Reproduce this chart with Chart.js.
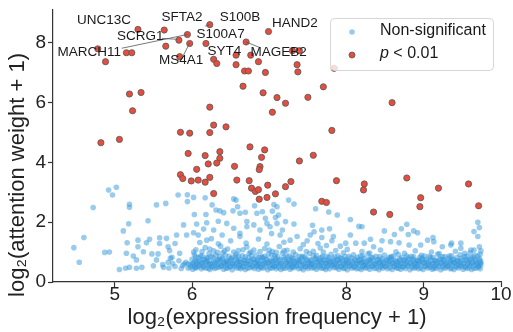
<!DOCTYPE html>
<html>
<head>
<meta charset="utf-8">
<script src="https://cdn.jsdelivr.net/npm/chart.js@4.4.1/dist/chart.umd.min.js"></script>
<style>
  html, body { margin: 0; padding: 0; background: #fff; }
  #wrap { width: 513px; height: 332px; }
</style>
</head>
<body>
<div id="wrap"><canvas id="scatter"></canvas></div>
<script>
const FONT = "'Liberation Sans', Arial, Helvetica, sans-serif";

const xTicks = [5, 6, 7, 8, 9, 10];
const yTicks = [0, 2, 4, 6, 8];

// significant genes (p < 0.01), flat x,y pairs
const sigPoints = [
  5.30,8.45, 5.64,8.43, 6.23,8.61, 6.99,8.38, 5.94,8.28, 5.83,8.09, 5.66,7.89, 5.97,7.98,
  6.18,7.98, 6.70,8.03, 4.78,7.80, 5.15,7.67, 5.22,7.67, 4.88,7.37, 5.84,7.54, 6.28,7.45,
  6.32,7.31, 6.57,7.59, 6.57,7.27, 6.76,7.59, 6.86,7.37, 7.30,7.74, 7.39,7.74, 6.68,7.06,
  6.73,7.06, 6.95,7.01, 7.36,7.27, 7.37,7.03, 6.66,6.55, 6.92,6.33, 7.10,6.17, 7.50,6.18,
  7.70,6.53, 7.21,5.98, 7.04,5.68, 8.59,6.00, 5.19,6.29, 5.34,6.34, 5.23,5.73, 6.23,5.85,
  6.28,5.25, 6.44,5.19, 5.85,5.01, 5.97,4.98, 6.23,5.00, 4.82,4.66, 5.06,4.77, 7.81,5.07,
  6.75,4.52, 6.94,4.42, 5.95,4.30, 6.36,4.36, 6.17,4.23, 6.36,4.14, 6.90,4.17, 7.57,4.24,
  7.39,4.05, 6.21,3.95, 6.32,3.98, 6.55,3.87, 6.88,3.86, 6.87,3.76, 6.06,3.77, 5.85,3.59,
  5.88,3.46, 5.99,3.38, 6.08,3.41, 6.17,3.34, 6.23,3.50, 6.58,3.41, 6.74,3.39, 7.28,3.36,
  6.77,3.14, 6.98,3.24, 7.21,3.19, 6.82,3.03, 6.86,3.09, 6.28,2.96, 7.08,2.95, 6.87,2.77,
  6.97,2.83, 7.87,3.39, 8.23,3.28, 8.22,3.08, 8.78,3.48, 9.19,3.14, 9.58,3.28, 8.96,2.82,
  8.95,2.52, 9.71,2.55, 7.68,2.70, 7.74,2.66, 8.35,2.34, 8.56,2.26, 7.84,7.15
];

// non-significant genes, scattered above the main band
const blueScatter = [
  4.47,1.15, 4.54,0.66, 4.60,1.49, 4.72,2.49, 4.87,0.99, 4.93,1.00, 4.92,3.08, 5.02,3.17,
  4.97,2.91, 5.19,2.60, 5.19,2.50, 5.54,2.58, 5.66,2.63, 5.82,2.91, 5.94,2.92, 5.94,2.69,
  6.02,2.83, 6.17,2.82, 6.26,2.58, 6.31,2.41, 6.36,2.38, 6.41,2.32, 6.54,2.78, 6.59,2.52,
  6.53,2.38, 6.69,2.33, 6.91,2.35, 7.04,2.37, 7.10,2.52, 6.03,2.26, 6.18,2.26, 6.06,1.94,
  6.19,1.98, 6.34,2.03, 6.15,1.77, 5.43,2.05, 5.18,1.95, 5.11,1.71, 5.16,1.31, 5.30,1.40,
  5.30,1.18, 5.41,1.31, 5.45,1.43, 5.58,1.48, 5.58,1.29, 5.67,1.46, 5.69,1.18, 5.78,1.29,
  5.80,1.57, 5.89,1.91, 5.93,1.57, 6.02,1.65, 5.15,0.96, 5.24,0.87, 5.28,0.74, 5.37,1.01,
  5.48,0.94, 5.54,0.74, 5.56,0.94, 5.71,1.05, 5.74,0.83, 5.84,0.96, 5.06,0.42, 5.14,0.46,
  5.19,0.49, 5.28,0.46, 5.35,0.49, 5.50,0.54, 5.63,0.49, 5.69,0.66,
  7.25,2.74, 7.32,2.61, 7.06,2.59, 7.60,2.45, 7.77,2.34, 7.88,2.24, 8.05,2.09, 8.20,1.85,
  8.16,1.86, 7.56,1.90, 7.68,1.74, 7.78,1.78, 8.49,1.71, 8.62,1.59, 8.71,1.78, 8.78,1.93,
  8.87,1.71, 8.92,1.65, 8.80,1.59, 9.05,1.40, 9.12,1.49, 9.70,2.00, 9.72,1.82, 9.65,1.69,
  9.70,1.52, 9.36,1.30, 9.48,1.30, 9.65,1.07, 9.72,1.18,
  6.95,2.13, 7.08,2.16, 7.10,1.96, 7.21,2.02, 7.32,1.94, 7.17,1.74, 7.01,1.85, 7.14,1.57,
  7.27,1.40, 7.36,1.52, 7.49,1.38, 7.53,1.57, 7.58,1.68, 7.68,1.49, 7.81,1.38, 7.83,1.52,
  7.99,1.30, 8.05,1.57, 8.12,1.30, 8.23,1.30, 8.31,1.43, 8.35,1.18, 8.46,1.38, 8.57,1.35,
  8.68,1.31, 8.81,1.24, 8.96,1.24, 9.13,1.35, 9.24,1.18, 9.35,1.24, 9.48,1.13, 9.61,1.07,
  6.62,2.30, 6.71,2.02, 6.84,2.30, 6.80,1.91, 6.88,1.74, 6.97,1.96, 7.12,2.24, 6.45,1.96,
  6.54,1.80, 6.62,1.63, 6.71,1.85, 6.28,1.74, 6.39,1.57, 6.19,1.40, 6.08,1.57, 6.57,2.74,
  6.81,2.55
];

// the dense band of non-significant genes, row by row
const bandRowA = [
  5.95,0.46, 6.01,0.43, 6.06,0.48, 6.12,0.44, 6.18,0.47, 6.23,0.42, 6.29,0.45, 6.35,0.49,
  6.41,0.43, 6.46,0.46, 6.52,0.41, 6.58,0.47, 6.63,0.44, 6.69,0.42, 6.75,0.48, 6.81,0.45,
  6.86,0.43, 6.92,0.46, 6.98,0.41, 7.04,0.47, 7.09,0.44, 7.15,0.42, 7.21,0.46, 7.27,0.43,
  7.32,0.48, 7.38,0.44, 7.44,0.41, 7.50,0.45, 7.55,0.47, 7.61,0.43, 7.67,0.46, 7.73,0.42,
  7.78,0.44, 7.84,0.48, 7.90,0.43, 7.96,0.45, 8.01,0.41, 8.07,0.46, 8.13,0.44, 8.19,0.42,
  8.24,0.47, 8.30,0.43, 8.36,0.45, 8.42,0.41, 8.47,0.46, 8.53,0.44, 8.59,0.42, 8.65,0.47,
  8.70,0.43, 8.76,0.45, 8.82,0.41, 8.88,0.46, 8.93,0.44, 8.99,0.42, 9.05,0.47, 9.11,0.43,
  9.16,0.45, 9.22,0.41, 9.28,0.46, 9.34,0.44, 9.39,0.42, 9.45,0.47, 9.51,0.43, 9.57,0.45,
  9.62,0.42, 9.68,0.46, 9.73,0.44
];
const bandRowA2 = [
  5.98,0.50, 6.04,0.47, 6.09,0.52, 6.15,0.49, 6.21,0.46, 6.26,0.51, 6.32,0.48, 6.38,0.53,
  6.44,0.47, 6.49,0.50, 6.55,0.52, 6.61,0.48, 6.66,0.51, 6.72,0.46, 6.78,0.50, 6.84,0.53,
  6.89,0.48, 6.95,0.51, 7.01,0.47, 7.06,0.52, 7.12,0.49, 7.18,0.46, 7.24,0.51, 7.29,0.48,
  7.35,0.53, 7.41,0.47, 7.47,0.50, 7.52,0.52, 7.58,0.48, 7.64,0.51, 7.70,0.46, 7.75,0.50,
  7.81,0.53, 7.87,0.48, 7.93,0.51, 7.98,0.47, 8.04,0.52, 8.10,0.49, 8.16,0.46, 8.21,0.51,
  8.27,0.48, 8.33,0.53, 8.39,0.47, 8.44,0.50, 8.50,0.52, 8.56,0.48, 8.62,0.51, 8.67,0.46,
  8.73,0.50, 8.79,0.53, 8.85,0.48, 8.90,0.51, 8.96,0.47, 9.02,0.52, 9.08,0.49, 9.13,0.46,
  9.19,0.51, 9.25,0.48, 9.31,0.53, 9.36,0.47, 9.42,0.50, 9.48,0.52, 9.54,0.48, 9.59,0.51,
  9.65,0.46, 9.71,0.50
];
const bandRowB = [
  5.88,0.55, 5.98,0.58, 6.04,0.53, 6.09,0.57, 6.15,0.54, 6.21,0.59, 6.26,0.52, 6.32,0.56,
  6.38,0.54, 6.43,0.58, 6.49,0.53, 6.55,0.57, 6.61,0.55, 6.66,0.52, 6.72,0.58, 6.78,0.54,
  6.84,0.56, 6.89,0.53, 6.95,0.59, 7.01,0.55, 7.07,0.52, 7.12,0.57, 7.18,0.54, 7.24,0.58,
  7.30,0.53, 7.35,0.56, 7.41,0.55, 7.47,0.52, 7.53,0.58, 7.58,0.54, 7.64,0.57, 7.70,0.53,
  7.76,0.56, 7.81,0.59, 7.87,0.54, 7.93,0.52, 7.99,0.57, 8.04,0.55, 8.10,0.53, 8.16,0.58,
  8.22,0.54, 8.27,0.56, 8.33,0.52, 8.39,0.57, 8.45,0.55, 8.50,0.53, 8.56,0.58, 8.62,0.54,
  8.68,0.56, 8.73,0.52, 8.79,0.57, 8.85,0.55, 8.91,0.53, 8.96,0.58, 9.02,0.54, 9.08,0.56,
  9.14,0.52, 9.19,0.57, 9.25,0.55, 9.31,0.53, 9.37,0.58, 9.42,0.54, 9.48,0.56, 9.54,0.52,
  9.60,0.57, 9.65,0.55, 9.71,0.53, 9.74,0.58
];
const bandRowB2 = [
  5.95,0.61, 6.01,0.59, 6.06,0.63, 6.12,0.60, 6.18,0.64, 6.23,0.58, 6.29,0.62, 6.35,0.60,
  6.41,0.63, 6.46,0.59, 6.52,0.61, 6.58,0.64, 6.63,0.58, 6.69,0.62, 6.75,0.60, 6.81,0.63,
  6.86,0.59, 6.92,0.61, 6.98,0.64, 7.04,0.58, 7.09,0.62, 7.15,0.60, 7.21,0.63, 7.27,0.59,
  7.32,0.61, 7.38,0.64, 7.44,0.58, 7.50,0.62, 7.55,0.60, 7.61,0.63, 7.67,0.59, 7.73,0.61,
  7.78,0.64, 7.84,0.58, 7.90,0.62, 7.96,0.60, 8.01,0.63, 8.07,0.59, 8.13,0.61, 8.19,0.64,
  8.24,0.58, 8.30,0.62, 8.36,0.60, 8.42,0.63, 8.47,0.59, 8.53,0.61, 8.59,0.64, 8.65,0.58,
  8.70,0.62, 8.76,0.60, 8.82,0.63, 8.88,0.59, 8.93,0.61, 8.99,0.64, 9.05,0.58, 9.11,0.62,
  9.16,0.60, 9.22,0.63, 9.28,0.59, 9.34,0.61, 9.39,0.64, 9.45,0.58, 9.51,0.62, 9.57,0.60,
  9.62,0.63, 9.68,0.59, 9.73,0.61
];
const bandRowC = [
  5.92,0.66, 6.02,0.63, 6.07,0.68, 6.13,0.64, 6.19,0.69, 6.24,0.62, 6.30,0.66, 6.36,0.70,
  6.42,0.64, 6.47,0.67, 6.53,0.62, 6.59,0.68, 6.64,0.65, 6.70,0.63, 6.76,0.69, 6.82,0.66,
  6.87,0.62, 6.93,0.67, 6.99,0.64, 7.05,0.70, 7.10,0.65, 7.16,0.62, 7.22,0.68, 7.28,0.64,
  7.33,0.66, 7.39,0.69, 7.45,0.63, 7.51,0.66, 7.56,0.62, 7.62,0.68, 7.68,0.65, 7.74,0.63,
  7.79,0.69, 7.85,0.64, 7.91,0.66, 7.97,0.62, 8.02,0.68, 8.08,0.65, 8.14,0.63, 8.20,0.67,
  8.25,0.64, 8.31,0.69, 8.37,0.62, 8.43,0.66, 8.48,0.64, 8.54,0.68, 8.60,0.63, 8.66,0.66,
  8.71,0.62, 8.77,0.68, 8.83,0.65, 8.89,0.63, 8.94,0.69, 9.00,0.64, 9.06,0.66, 9.12,0.62,
  9.17,0.67, 9.23,0.65, 9.29,0.63, 9.35,0.68, 9.40,0.64, 9.46,0.66, 9.52,0.62, 9.58,0.68,
  9.63,0.65, 9.69,0.63, 9.74,0.67
];
const bandRowC2 = [
  6.04,0.72, 6.10,0.70, 6.16,0.74, 6.22,0.71, 6.28,0.69, 6.34,0.73, 6.39,0.75, 6.45,0.70,
  6.51,0.72, 6.57,0.74, 6.62,0.69, 6.68,0.73, 6.74,0.71, 6.80,0.75, 6.85,0.70, 6.91,0.72,
  6.97,0.74, 7.03,0.69, 7.08,0.73, 7.14,0.71, 7.20,0.75, 7.26,0.70, 7.31,0.72, 7.37,0.74,
  7.43,0.69, 7.49,0.73, 7.54,0.71, 7.60,0.75, 7.66,0.70, 7.72,0.72, 7.77,0.74, 7.83,0.69,
  7.89,0.73, 7.95,0.71, 8.00,0.75, 8.06,0.70, 8.12,0.72, 8.18,0.74, 8.23,0.69, 8.29,0.73,
  8.35,0.71, 8.41,0.75, 8.46,0.70, 8.52,0.72, 8.58,0.74, 8.64,0.69, 8.69,0.73, 8.75,0.71,
  8.81,0.75, 8.87,0.70, 8.92,0.72, 8.98,0.74, 9.04,0.69, 9.10,0.73, 9.15,0.71, 9.21,0.75,
  9.27,0.70, 9.33,0.72, 9.38,0.74, 9.44,0.69, 9.50,0.73, 9.56,0.71, 9.61,0.75, 9.67,0.70,
  9.73,0.72
];
const bandRowD = [
  6.00,0.76, 6.08,0.81, 6.14,0.74, 6.20,0.79, 6.27,0.83, 6.33,0.75, 6.39,0.80, 6.45,0.73,
  6.50,0.78, 6.56,0.84, 6.62,0.76, 6.68,0.72, 6.73,0.81, 6.79,0.77, 6.85,0.74, 6.91,0.82,
  6.96,0.78, 7.02,0.73, 7.08,0.80, 7.14,0.76, 7.19,0.83, 7.25,0.74, 7.31,0.79, 7.37,0.72,
  7.42,0.81, 7.48,0.77, 7.54,0.74, 7.60,0.80, 7.65,0.76, 7.71,0.73, 7.77,0.82, 7.83,0.77,
  7.88,0.74, 7.94,0.79, 8.00,0.72, 8.06,0.81, 8.11,0.76, 8.17,0.73, 8.23,0.79, 8.29,0.75,
  8.34,0.82, 8.40,0.73, 8.46,0.78, 8.52,0.75, 8.57,0.80, 8.63,0.72, 8.69,0.77, 8.75,0.74,
  8.80,0.81, 8.86,0.76, 8.92,0.73, 8.98,0.79, 9.03,0.75, 9.09,0.82, 9.15,0.73, 9.21,0.78,
  9.26,0.74, 9.32,0.80, 9.38,0.76, 9.44,0.72, 9.49,0.79, 9.55,0.75, 9.61,0.81, 9.67,0.74,
  9.72,0.78
];
const bandRowD2 = [
  6.05,0.84, 6.13,0.88, 6.19,0.82, 6.25,0.86, 6.36,0.84, 6.43,0.90, 6.52,0.81, 6.60,0.87,
  6.69,0.84, 6.77,0.89, 6.87,0.82, 6.94,0.86, 7.03,0.90, 7.11,0.84, 7.22,0.88, 7.29,0.82,
  7.39,0.86, 7.46,0.84, 7.57,0.88, 7.67,0.82, 7.74,0.86, 7.85,0.84, 7.92,0.81, 8.03,0.86,
  8.14,0.83, 8.21,0.88, 8.32,0.81, 8.43,0.85, 8.55,0.83, 8.61,0.87, 8.72,0.82, 8.84,0.86,
  8.95,0.83, 9.01,0.87, 9.12,0.82, 9.24,0.84, 9.33,0.87, 9.43,0.82, 9.53,0.85, 9.64,0.83,
  9.70,0.87
];
const bandRowE = [
  6.03,0.91, 6.11,0.87, 6.22,0.95, 6.31,0.89, 6.40,0.98, 6.48,0.86, 6.57,0.93, 6.65,0.88,
  6.74,0.96, 6.83,0.90, 6.90,0.85, 6.99,0.94, 7.07,0.88, 7.17,0.97, 7.26,0.87, 7.34,0.92,
  7.43,0.86, 7.52,0.95, 7.61,0.89, 7.69,0.86, 7.80,0.93, 7.89,0.88, 7.98,0.85, 8.09,0.91,
  8.18,0.87, 8.28,0.94, 8.38,0.86, 8.49,0.90, 8.58,0.85, 8.67,0.92, 8.78,0.87, 8.87,0.84,
  8.97,0.89, 9.07,0.86, 9.18,0.93, 9.27,0.85, 9.36,0.88, 9.47,0.91, 9.56,0.86, 9.66,0.89,
  9.73,0.93
];
const bandRowF = [
  6.05,1.08, 6.17,1.15, 6.28,1.04, 6.37,1.20, 6.46,1.10, 6.60,1.05, 6.71,1.17, 6.80,1.07,
  6.94,1.12, 7.04,1.02, 7.13,1.19, 7.23,1.06, 7.40,1.11, 7.57,1.03, 7.66,1.14, 7.86,1.05,
  8.01,1.09, 8.20,1.02, 8.44,1.07, 8.64,1.01, 8.89,1.04, 9.10,1.00, 9.41,1.03, 9.60,0.98,
  9.74,1.04,
  6.10,1.32, 6.25,1.45, 6.34,1.28, 6.50,1.38, 6.62,1.52, 6.70,1.30, 6.86,1.44, 6.97,1.27,
  7.03,1.62, 7.19,1.33, 7.44,1.25, 7.63,1.29, 7.74,1.22, 7.92,1.20,
  5.62,0.58, 5.70,0.47, 5.75,0.62, 5.78,0.52, 5.83,0.71, 5.86,0.45, 5.90,0.60, 5.72,0.79
];
const bandRowG = [
  6.02,1.00, 6.13,1.02, 6.23,1.10, 6.33,0.99, 6.42,1.05, 6.54,1.00, 6.66,1.08, 6.76,1.00,
  6.88,1.02, 7.00,1.07, 7.09,0.99, 7.19,1.04, 7.31,1.00, 7.48,1.02, 7.70,1.00, 7.96,0.98,
  8.30,0.97, 8.75,0.96, 9.20,0.95, 9.53,0.96
];

// gene name labels (text centre) and leader lines, in data units
const geneNames = ['UNC13C', 'SFTA2', 'S100B', 'HAND2', 'SCRG1', 'S100A7', 'MARCH11', 'MS4A1', 'SYT4', 'MAGEB2'];
const geneLabelX = [4.86, 5.87, 6.62, 7.33, 5.33, 6.37, 4.67, 5.86, 6.42, 7.12];
const geneLabelY = [8.76, 8.85, 8.86, 8.66, 8.23, 8.28, 7.68, 7.42, 7.73, 7.68];
const leaderLines = [
  [5.09, 7.82, 5.94, 8.28],
  [5.61, 8.15, 5.81, 8.12],
  [5.89, 7.59, 5.97, 8.00],
  [6.17, 8.56, 6.23, 8.61],
  [6.70, 8.03, 6.88, 7.84]
];

function pairs(flat) {
  const out = [];
  for (let i = 0; i < flat.length; i += 2) {
    out.push({ x: flat[i], y: flat[i + 1] });
  }
  return out;
}

const blueData = pairs([].concat(
  blueScatter, bandRowA, bandRowA2, bandRowB, bandRowB2, bandRowC, bandRowC2,
  bandRowD, bandRowD2, bandRowE, bandRowF, bandRowG
));
const redData = pairs(sigPoints);

const geneLabelPlugin = {
  id: 'geneLabels',
  afterDatasetsDraw(chart) {
    const { ctx, scales: { x, y } } = chart;
    ctx.save();
    ctx.strokeStyle = '#555';
    ctx.lineWidth = 0.8;
    leaderLines.forEach(l => {
      ctx.beginPath();
      ctx.moveTo(x.getPixelForValue(l[0]), y.getPixelForValue(l[1]));
      ctx.lineTo(x.getPixelForValue(l[2]), y.getPixelForValue(l[3]));
      ctx.stroke();
    });
    ctx.font = '13.5px ' + FONT;
    ctx.fillStyle = '#1a1a1a';
    ctx.textAlign = 'center';
    ctx.textBaseline = 'middle';
    geneNames.forEach((g, i) => {
      ctx.fillText(g, x.getPixelForValue(geneLabelX[i]), y.getPixelForValue(geneLabelY[i]));
    });
    ctx.restore();
  }
};

// y title drawn by hand: it sits a bit lower than the axis centre in the original
const yTitlePlugin = {
  id: 'yTitle',
  afterDraw(chart) {
    const { ctx, chartArea } = chart;
    ctx.save();
    ctx.translate(18, (chartArea.top + chartArea.bottom) / 2 + 29);
    ctx.rotate(-Math.PI / 2);
    ctx.font = '22px ' + FONT;
    ctx.fillStyle = '#222';
    ctx.textAlign = 'center';
    ctx.textBaseline = 'middle';
    ctx.fillText('log₂(attention weight + 1)', 0, 0);
    ctx.restore();
  }
};

const boxLegendPlugin = {
  id: 'boxLegend',
  afterDraw(chart) {
    const { ctx, chartArea } = chart;
    const bx = chartArea.right - 171, by = chartArea.top + 8, bw = 163, bh = 52;
    ctx.save();
    ctx.beginPath();
    ctx.roundRect(bx + 0.5, by + 0.5, bw, bh, 4);
    ctx.fillStyle = 'rgba(255,255,255,0.8)';
    ctx.fill();
    ctx.strokeStyle = '#d6d6d6';
    ctx.lineWidth = 1;
    ctx.stroke();

    // markers
    ctx.beginPath();
    ctx.arc(bx + 22, by + 14, 2.8, 0, Math.PI * 2);
    ctx.fillStyle = 'rgba(52,152,219,0.5)';
    ctx.fill();
    ctx.beginPath();
    ctx.arc(bx + 22, by + 37, 3, 0, Math.PI * 2);
    ctx.fillStyle = '#e74c3c';
    ctx.fill();
    ctx.strokeStyle = 'rgba(90,90,90,0.85)';
    ctx.stroke();

    // texts
    ctx.fillStyle = '#1a1a1a';
    ctx.textBaseline = 'middle';
    ctx.textAlign = 'left';
    ctx.font = '16px ' + FONT;
    ctx.fillText('Non-significant', bx + 50, by + 13);
    ctx.font = 'italic 16px ' + FONT;
    ctx.fillText('p', bx + 50, by + 36);
    const pw = ctx.measureText('p').width;
    ctx.font = '16px ' + FONT;
    ctx.fillText(' < 0.01', bx + 50 + pw, by + 36);
    ctx.restore();
  }
};

new Chart(document.getElementById('scatter'), {
  type: 'scatter',
  data: {
    datasets: [
      {
        label: 'Non-significant',
        data: blueData,
        order: 1,
        backgroundColor: 'rgba(52,152,219,0.5)',
        borderWidth: 0,
        pointRadius: 2.8,
        pointHoverRadius: 2.8
      },
      {
        label: 'p < 0.01',
        data: redData,
        order: 0,
        backgroundColor: '#e74c3c',
        borderColor: 'rgba(90,90,90,0.85)',
        borderWidth: 1,
        pointRadius: 3.1,
        pointHoverRadius: 3.1
      }
    ]
  },
  options: {
    responsive: true,
    maintainAspectRatio: false,
    animation: false,
    layout: { padding: { top: 10, right: 12, left: 0, bottom: 0 } },
    plugins: {
      legend: { display: false },
      tooltip: { enabled: false }
    },
    scales: {
      x: {
        type: 'linear',
        min: 4.2,
        max: 10,
        afterBuildTicks: s => { s.ticks = xTicks.map(v => ({ value: v })); },
        afterFit: s => { s.height = 50; s.paddingLeft = 0; s.paddingRight = 0; },
        grid: { drawOnChartArea: false, drawTicks: true, tickLength: 5, color: '#333', tickWidth: 1.2 },
        border: { display: true, color: '#333', width: 1.2 },
        ticks: {
          font: { family: FONT, size: 19, lineHeight: 1 },
          color: '#222',
          padding: -2,
          maxRotation: 0,
          autoSkip: false
        },
        title: {
          display: true,
          text: 'log₂(expression frequency + 1)',
          font: { family: FONT, size: 22 },
          color: '#222',
          padding: { top: 0, bottom: 1 }
        }
      },
      y: {
        type: 'linear',
        min: 0,
        max: 9.1,
        afterBuildTicks: s => { s.ticks = yTicks.map(v => ({ value: v })); },
        afterFit: s => { s.width = 53; s.paddingTop = 0; s.paddingBottom = 0; },
        grid: { drawOnChartArea: false, drawTicks: true, tickLength: 5, color: '#333', tickWidth: 1.2 },
        border: { display: true, color: '#333', width: 1.2 },
        ticks: {
          font: { family: FONT, size: 19 },
          color: '#222',
          padding: 2
        },
        title: { display: false }
      }
    }
  },
  plugins: [geneLabelPlugin, yTitlePlugin, boxLegendPlugin]
});
</script>
</body>
</html>
